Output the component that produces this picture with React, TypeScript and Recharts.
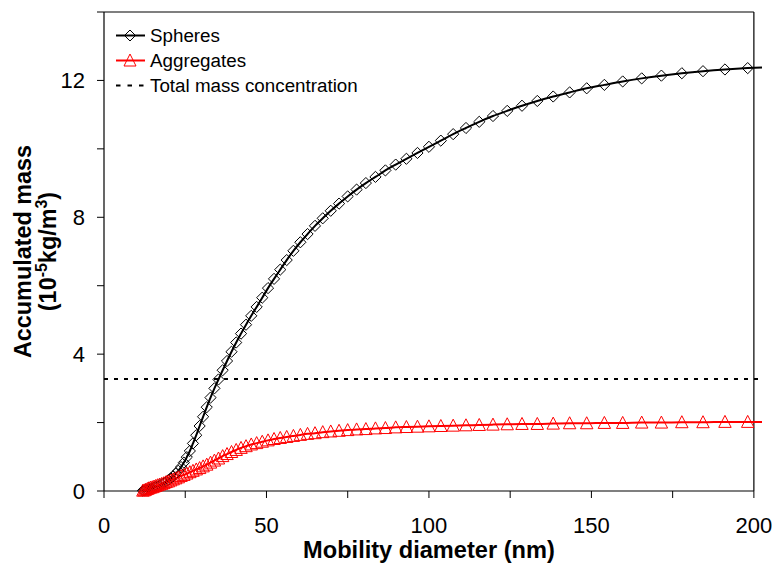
import React from 'react'
import { LineChart, Line, XAxis, YAxis, ReferenceLine, Label } from 'recharts'

// mobility diameter channels (nm) — last entry only carries the line past the frame
const diameters = [
  11.97, 12.41, 12.87, 13.34, 13.82, 14.33, 14.86, 15.4, 15.96, 16.55,
  17.15, 17.78, 18.43, 19.11, 19.81, 20.54, 21.29, 22.07, 22.87, 23.71,
  24.58, 25.48, 26.42, 27.38, 28.39, 29.43, 30.5, 31.62, 32.78, 33.98,
  35.23, 36.52, 37.86, 39.24, 40.68, 42.17, 43.71, 45.32, 46.98, 48.7,
  50.48, 52.33, 54.24, 56.23, 58.29, 60.43, 62.64, 64.94, 67.32, 69.78,
  72.34, 74.99, 77.74, 80.59, 83.54, 86.6, 89.77, 93.06, 96.47, 100.0,
  103.66, 107.46, 111.4, 115.48, 119.71, 124.09, 128.64, 133.35, 138.24, 143.3,
  148.55, 153.99, 159.63, 165.48, 171.54, 177.83, 184.34, 191.1, 198.1, 202.5,
]

// accumulated mass, 10^-5 kg/m3
const spheres = [
  0.01, 0.02, 0.03, 0.04, 0.05, 0.07, 0.08, 0.1, 0.12, 0.14,
  0.17, 0.2, 0.23, 0.27, 0.32, 0.37, 0.43, 0.51, 0.59, 0.7,
  0.83, 0.99, 1.17, 1.39, 1.63, 1.9, 2.17, 2.45, 2.73, 3.0,
  3.26, 3.53, 3.8, 4.07, 4.34, 4.6, 4.86, 5.12, 5.38, 5.65,
  5.93, 6.2, 6.47, 6.75, 7.02, 7.27, 7.51, 7.75, 7.97, 8.19,
  8.4, 8.61, 8.81, 9.0, 9.18, 9.37, 9.54, 9.71, 9.88, 10.06,
  10.24, 10.43, 10.61, 10.79, 10.96, 11.11, 11.26, 11.4, 11.53, 11.65,
  11.77, 11.87, 11.97, 12.06, 12.14, 12.21, 12.27, 12.32, 12.36, 12.38,
]

const aggregates = [
  0.01, 0.02, 0.04, 0.06, 0.08, 0.1, 0.11, 0.13, 0.15, 0.17,
  0.19, 0.21, 0.23, 0.26, 0.28, 0.31, 0.34, 0.37, 0.4, 0.44,
  0.47, 0.51, 0.55, 0.59, 0.63, 0.67, 0.72, 0.77, 0.83, 0.89,
  0.95, 1.02, 1.08, 1.14, 1.2, 1.26, 1.31, 1.36, 1.4, 1.44,
  1.48, 1.52, 1.55, 1.58, 1.61, 1.64, 1.67, 1.69, 1.72, 1.74,
  1.76, 1.78, 1.8, 1.81, 1.83, 1.84, 1.86, 1.87, 1.88, 1.89,
  1.9, 1.91, 1.92, 1.93, 1.94, 1.95, 1.96, 1.96, 1.97, 1.98,
  1.98, 1.99, 1.99, 2.0, 2.0, 2.01, 2.01, 2.02, 2.02, 2.02,
]

const totalMass = 3.27

const xTicks = [0, 25, 50, 75, 100, 125, 150, 175, 200]
const xLabels = [0, 50, 100, 150, 200]
const yTicks = [0, 2, 4, 6, 8, 10, 12, 14]
const yLabels = [0, 4, 8, 12]

const X_END = 200
const X_MAX = 202.5
const Y_MAX = 14

const W = 777
const H = 567
const Y_AXIS_W = 104
const X_AXIS_H = 76
const MARGIN = { top: 12, right: 15, bottom: 0, left: 0 }
const FONT = "'Liberation Sans', Arial, Helvetica, sans-serif"
const RED = '#ff0000'

const data = diameters.map((d, i) => ({ d, spheres: spheres[i], aggregates: aggregates[i] }))

const plotLeft = MARGIN.left + Y_AXIS_W
const plotTop = MARGIN.top
const plotBottom = H - MARGIN.bottom - X_AXIS_H
const plotWidth = W - MARGIN.right - plotLeft
const frameCenterX = plotLeft + (plotWidth * (X_END / 2)) / X_MAX
const plotCenterY = (plotTop + plotBottom) / 2

function diamondDot(props: any) {
  const { cx, cy, payload, index } = props
  if (cx == null || payload.d > X_END) return <g key={`s${index}`} />
  const r = 5.6
  return (
    <path key={`s${index}`} d={`M${cx},${cy - r}L${cx + r},${cy}L${cx},${cy + r}L${cx - r},${cy}Z`}
      fill="none" stroke="#000" strokeWidth={1} />
  )
}

function triangleDot(props: any) {
  const { cx, cy, payload, index } = props
  if (cx == null || payload.d > X_END) return <g key={`a${index}`} />
  return (
    <path key={`a${index}`} d={`M${cx},${cy - 6.5}L${cx + 6.2},${cy + 5.5}L${cx - 6.2},${cy + 5.5}Z`}
      fill="none" stroke={RED} strokeWidth={1} />
  )
}

function XTick({ x, y, payload }: any) {
  if (!xLabels.includes(payload.value)) return <g />
  return <text x={x} y={y} dy={35} textAnchor="middle" fontSize={22} fontFamily={FONT} fill="#000">{payload.value}</text>
}

function YTick({ x, y, payload }: any) {
  if (!yLabels.includes(payload.value)) return <g />
  return <text x={x - 12} y={y} textAnchor="end" dominantBaseline="central" fontSize={22} fontFamily={FONT} fill="#000">{payload.value}</text>
}

const XTitle = () => (
  <text x={frameCenterX} y={558} textAnchor="middle" fontSize={23.6} fontWeight="bold" fontFamily={FONT} fill="#000">
    Mobility diameter (nm)
  </text>
)

const YTitle = () => (
  <g fontFamily={FONT} fontWeight="bold" fill="#000" fontSize={23.4}>
    <text x={31} y={plotCenterY} textAnchor="middle" transform={`rotate(-90, 31, ${plotCenterY})`}>Accumulated mass</text>
    <text x={56} y={plotCenterY} textAnchor="middle" transform={`rotate(-90, 56, ${plotCenterY})`}>
      (10<tspan dy={-9} fontSize={16}>-5</tspan><tspan dy={9}>kg/m</tspan><tspan dy={-9} fontSize={16}>3</tspan><tspan dy={9}>)</tspan>
    </text>
  </g>
)

const legendItems = [
  { name: 'Spheres', color: '#000', marker: 'diamond' },
  { name: 'Aggregates', color: RED, marker: 'triangle' },
  { name: 'Total mass concentration', color: '#000', marker: 'dash' },
]

function LegendBox() {
  return (
    <div style={{ position: 'absolute', left: 114, top: 23, fontFamily: FONT, fontSize: 18.8, color: '#000' }}>
      {legendItems.map((it) => (
        <div key={it.name} style={{ display: 'flex', alignItems: 'center', height: 25 }}>
          <svg width={32} height={25} style={{ marginRight: 4 }}>
            {it.marker === 'dash' ? (
              <line x1={2} y1={12.5} x2={31} y2={12.5} stroke="#000" strokeWidth={2} strokeDasharray="4.5 7" />
            ) : (
              <line x1={2} y1={12.5} x2={31} y2={12.5} stroke={it.color} strokeWidth={2} />
            )}
            {it.marker === 'diamond' && <path d="M16,7L21.5,12.5L16,18L10.5,12.5Z" fill="none" stroke="#000" strokeWidth={1} />}
            {it.marker === 'triangle' && <path d="M16,6L22,18L10,18Z" fill="none" stroke={RED} strokeWidth={1} />}
          </svg>
          <span style={{ whiteSpace: 'nowrap' }}>{it.name}</span>
        </div>
      ))}
    </div>
  )
}

export default function App() {
  const frame = { stroke: '#000', strokeWidth: 1.2 }
  return (
    <div style={{ position: 'absolute', left: 0, top: 0, width: W, height: H, background: '#fff' }}>
      <LineChart width={W} height={H} data={data} margin={MARGIN}>
        <XAxis type="number" dataKey="d" domain={[0, X_MAX]} ticks={xTicks} height={X_AXIS_H}
          axisLine={false} tickLine={{ stroke: '#000', strokeWidth: 1 }} tickSize={7} tickMargin={0}
          tick={<XTick />} interval={0}>
          <Label content={<XTitle />} />
        </XAxis>
        <YAxis type="number" domain={[0, Y_MAX]} ticks={yTicks} width={Y_AXIS_W}
          axisLine={frame} tickLine={{ stroke: '#000', strokeWidth: 1 }} tickSize={7} tickMargin={0}
          tick={<YTick />} interval={0}>
          <Label content={<YTitle />} />
        </YAxis>
        <ReferenceLine segment={[{ x: 0, y: 0 }, { x: X_END, y: 0 }]} {...frame} />
        <ReferenceLine segment={[{ x: 0, y: Y_MAX }, { x: X_END, y: Y_MAX }]} {...frame} />
        <ReferenceLine x={X_END} {...frame} />
        <ReferenceLine y={totalMass} stroke="#000" strokeWidth={2} strokeDasharray="4 6" />
        <Line dataKey="spheres" type="monotone" stroke="#000" strokeWidth={2} dot={diamondDot}
          activeDot={false} isAnimationActive={false} />
        <Line dataKey="aggregates" type="monotone" stroke={RED} strokeWidth={2} dot={triangleDot}
          activeDot={false} isAnimationActive={false} />
      </LineChart>
      <LegendBox />
    </div>
  )
}
